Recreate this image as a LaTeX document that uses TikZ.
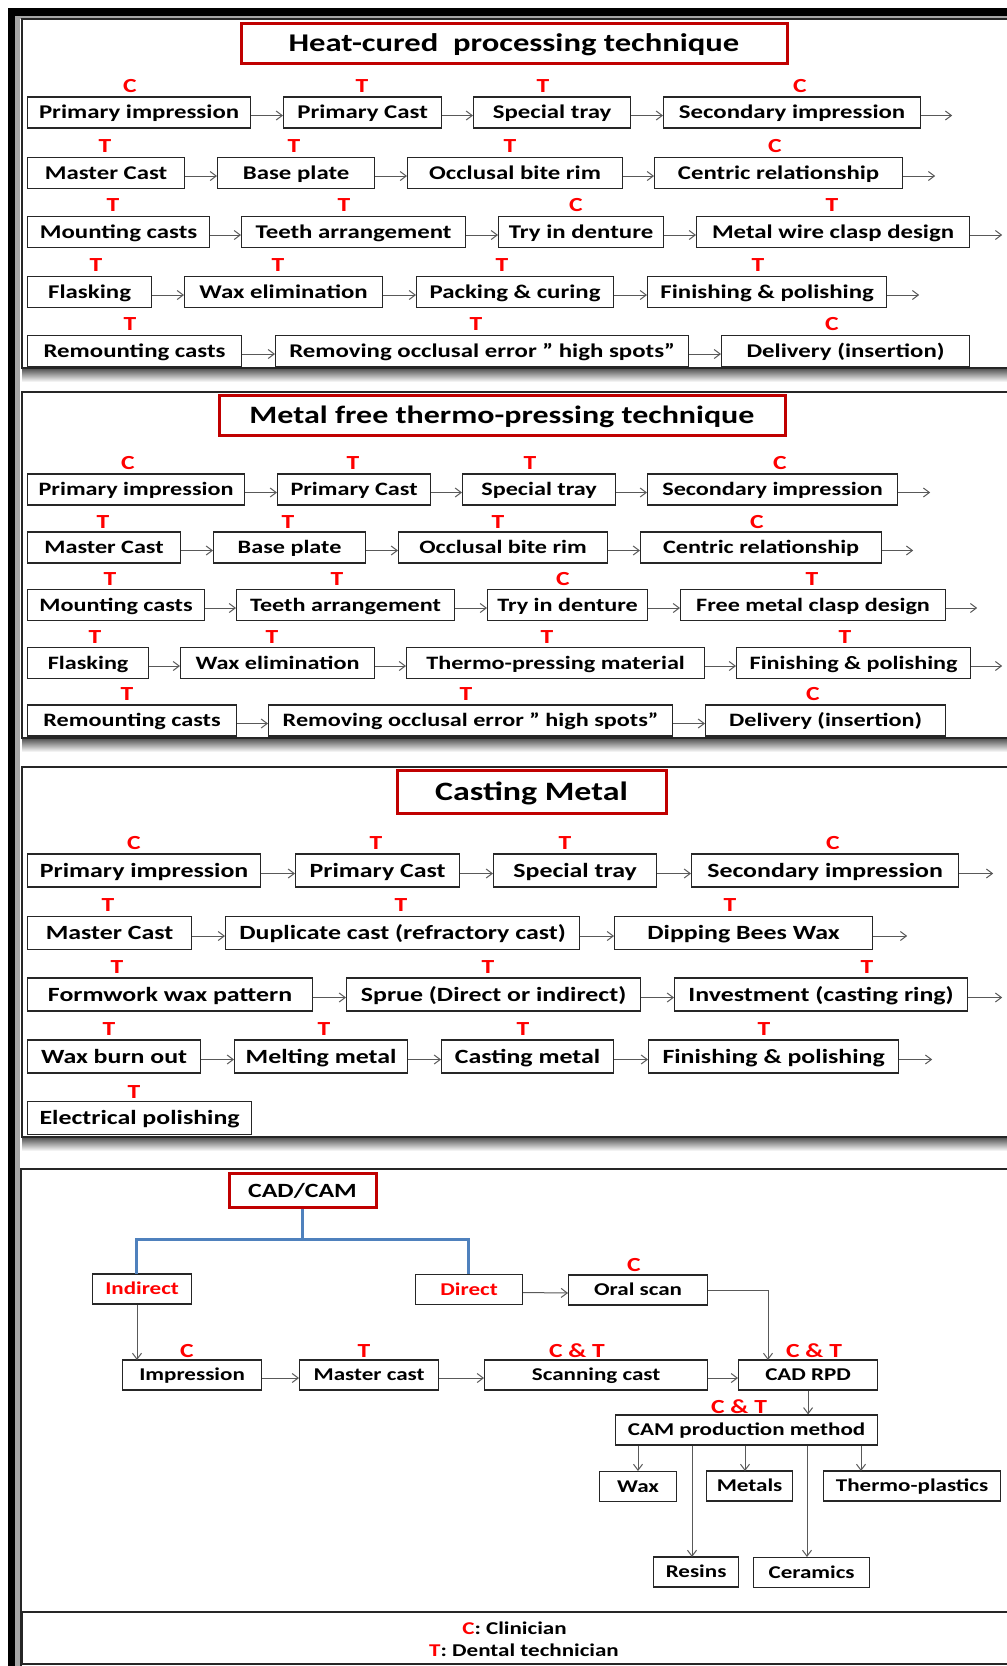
\documentclass[tikz,border=0pt]{standalone}
\usepackage{fontspec}
\setmainfont{Carlito}[FakeStretch=1.28]
\usetikzlibrary{arrows.meta}
\definecolor{dred}{HTML}{C00000}
\definecolor{oblue}{HTML}{4F81BD}
\definecolor{agray}{HTML}{595959}
\newcommand\fsz[1]{\fontsize{#1}{#1}\selectfont}
\newcommand\mybox[6][]{\node[bx,#1,minimum width={#4pt-#3pt},anchor=west] (#2) at (#3,#5) {#6};}
\newcommand\myarr[2]{\draw[arr] ([yshift=-3pt]#1.east) -- ([yshift=-3pt]#2.west);}
\newcommand\mytail[2]{\draw[arr] ([yshift=-3pt]#1.east) -- ++(#2,0);}
\newcommand\mylab[4]{\node[lab] (#1) at (#2,#3) {#4};}
\begin{document}
\begin{tikzpicture}[x=1pt,y=-1pt,
  bx/.style={draw=black!85,line width=1.2pt,fill=white,inner sep=0pt,minimum height=31pt},
  p1/.style={font=\bfseries\fsz{19.4},text height=12.4pt,text depth=0pt},
  p2/.style={font=\bfseries\fsz{18.9},text height=12.1pt,text depth=0pt},
  p3/.style={font=\bfseries\fsz{20.2},text height=13pt,text depth=0pt,minimum height=33pt},
  p4/.style={font=\bfseries\fsz{18},text height=11.6pt,text depth=0pt,minimum height=30pt},
  lab/.style={text=red,font=\bfseries\fsz{20},inner sep=0pt},
  arr/.style={draw=agray,line width=1pt,-{Straight Barb[length=6pt,width=9pt]}},
  panel/.style={draw=black!85,line width=1.8pt},
  ttl/.style={draw=dred,line width=3pt,fill=white,inner sep=0pt,text depth=0pt},
  bl/.style={draw=oblue,line width=3pt}]
\useasboundingbox (0,0) rectangle (1007,1666);
\clip (0,0) rectangle (1007,1666);
\fill[white] (0,0) rectangle (1007,1666);
% outer frame
\fill[black] (8,8) rectangle (1007,16);
\fill[black] (8,8) rectangle (15,1666);
\fill[black!35] (15,16) rectangle (1007,18.5);
\fill[black!35] (15,16) rectangle (19.5,1666);
% panels
\foreach \a/\b in {19/368,392/738,767/1137}{
  \shade[top color=black!70,bottom color=white] (22,\b) rectangle (1012,\b+14);
  \draw[panel,fill=white] (22,\a) rectangle (1015,\b);
}
\draw[panel,fill=white] (21,1169) rectangle (1015,1680);
\draw[panel] (22,1612) rectangle (1015,1664);

% ---------- Panel 1 ----------
\node[ttl,minimum width=546pt,minimum height=40pt,font=\bfseries\fsz{25.5},text height=16.4pt] (t1) at (514,43.5) {Heat-cured\ \ processing technique};
\mybox[p1]{a11}{27}{250}{112.5}{Primary impression}
\mybox[p1]{a12}{283}{441}{112.5}{Primary Cast}
\mybox[p1]{a13}{473}{630}{112.5}{Special tray}
\mybox[p1]{a14}{663}{920}{112.5}{Secondary impression}
\myarr{a11}{a12}\myarr{a12}{a13}\myarr{a13}{a14}\mytail{a14}{31}
\mylab{l11}{130}{86}{C}\mylab{l12}{362}{86}{T}\mylab{l13}{543}{86}{T}\mylab{l14}{800}{86}{C}
\mybox[p1]{a21}{27}{184}{173}{Master Cast}
\mybox[p1]{a22}{217}{374}{173}{Base plate}
\mybox[p1]{a23}{407}{622}{173}{Occlusal bite rim}
\mybox[p1]{a24}{654}{902}{173}{Centric relationship}
\myarr{a21}{a22}\myarr{a22}{a23}\myarr{a23}{a24}\mytail{a24}{32}
\mylab{l21}{105}{146}{T}\mylab{l22}{294}{146}{T}\mylab{l23}{510}{146}{T}\mylab{l24}{775}{146}{C}
\mybox[p1]{a31}{27}{209}{232}{Mounting casts}
\mybox[p1]{a32}{241}{465}{232}{Teeth arrangement}
\mybox[p1]{a33}{498}{663}{232}{Try in denture}
\mybox[p1]{a34}{696}{969}{232}{Metal wire clasp design}
\myarr{a31}{a32}\myarr{a32}{a33}\myarr{a33}{a34}\mytail{a34}{32}
\mylab{l31}{113}{205}{T}\mylab{l32}{344}{205}{T}\mylab{l33}{576}{205}{C}\mylab{l34}{832}{205}{T}
\mybox[p1]{a41}{27}{151}{292}{Flasking}
\mybox[p1]{a42}{184}{382}{292}{Wax elimination}
\mybox[p1]{a43}{416}{613}{292}{Packing \& curing}
\mybox[p1]{a44}{647}{886}{292}{Finishing \& polishing}
\myarr{a41}{a42}\myarr{a42}{a43}\myarr{a43}{a44}\mytail{a44}{32}
\mylab{l41}{96}{265}{T}\mylab{l42}{278}{265}{T}\mylab{l43}{502}{265}{T}\mylab{l44}{758}{265}{T}
\mybox[p1]{a51}{27}{241}{351}{Remounting casts}
\mybox[p1]{a52}{275}{688}{351}{Removing occlusal error ” high spots”}
\mybox[p1]{a53}{721}{969}{351}{Delivery (insertion)}
\myarr{a51}{a52}\myarr{a52}{a53}
\mylab{l51}{130}{324}{T}\mylab{l52}{476}{324}{T}\mylab{l53}{832}{324}{C}

% ---------- Panel 2 ----------
\node[ttl,minimum width=566pt,minimum height=40pt,font=\bfseries\fsz{25},text height=16.1pt] (t2) at (502,415.5) {Metal free thermo-pressing technique};
\mybox[p2]{b11}{27}{244}{489.5}{Primary impression}
\mybox[p2]{b12}{277}{430}{489.5}{Primary Cast}
\mybox[p2]{b13}{462}{615}{489.5}{Special tray}
\mybox[p2]{b14}{647}{897}{489.5}{Secondary impression}
\myarr{b11}{b12}\myarr{b12}{b13}\myarr{b13}{b14}\mytail{b14}{32}
\mylab{m11}{128}{463}{C}\mylab{m12}{353}{463}{T}\mylab{m13}{530}{463}{T}\mylab{m14}{780}{463}{C}
\mybox[p2]{b21}{27}{180}{547.5}{Master Cast}
\mybox[p2]{b22}{213}{365}{547.5}{Base plate}
\mybox[p2]{b23}{398}{607}{547.5}{Occlusal bite rim}
\mybox[p2]{b24}{640}{881}{547.5}{Centric relationship}
\myarr{b21}{b22}\myarr{b22}{b23}\myarr{b23}{b24}\mytail{b24}{31}
\mylab{m21}{103}{522}{T}\mylab{m22}{288}{522}{T}\mylab{m23}{498}{522}{T}\mylab{m24}{757}{522}{C}
\mybox[p2]{b31}{27}{204}{605}{Mounting casts}
\mybox[p2]{b32}{236}{454}{605}{Teeth arrangement}
\mybox[p2]{b33}{487}{647}{605}{Try in denture}
\mybox[p2]{b34}{680}{945}{605}{Free metal clasp design}
\myarr{b31}{b32}\myarr{b32}{b33}\myarr{b33}{b34}\mytail{b34}{31}
\mylab{m31}{110}{579}{T}\mylab{m32}{337}{579}{T}\mylab{m33}{563}{579}{C}\mylab{m34}{812}{579}{T}
\mybox[p2]{b41}{27}{148}{663}{Flasking}
\mybox[p2]{b42}{180}{374}{663}{Wax elimination}
\mybox[p2]{b43}{406}{704}{663}{Thermo-pressing material}
\mybox[p2]{b44}{736}{970}{663}{Finishing \& polishing}
\myarr{b41}{b42}\myarr{b42}{b43}\myarr{b43}{b44}\mytail{b44}{31}
\mylab{m41}{95}{637}{T}\mylab{m42}{272}{637}{T}\mylab{m43}{547}{637}{T}\mylab{m44}{845}{637}{T}
\mybox[p2]{b51}{27}{236}{720.5}{Remounting casts}
\mybox[p2]{b52}{268}{672}{720.5}{Removing occlusal error ” high spots”}
\mybox[p2]{b53}{705}{945}{720.5}{Delivery (insertion)}
\myarr{b51}{b52}\myarr{b52}{b53}
\mylab{m51}{127}{694}{T}\mylab{m52}{466}{694}{T}\mylab{m53}{813}{694}{C}

% ---------- Panel 3 ----------
\node[ttl,minimum width=269pt,minimum height=43pt,font=\bfseries\fsz{26.5},text height=17pt] (t3) at (531.5,792) {Casting Metal};
\mybox[p3]{c11}{27}{260}{870.5}{Primary impression}
\mybox[p3]{c12}{295}{459}{870.5}{Primary Cast}
\mybox[p3]{c13}{493}{656}{870.5}{Special tray}
\mybox[p3]{c14}{691}{958}{870.5}{Secondary impression}
\myarr{c11}{c12}\myarr{c12}{c13}\myarr{c13}{c14}\mytail{c14}{34}
\mylab{n11}{134}{843}{C}\mylab{n12}{376}{843}{T}\mylab{n13}{565}{843}{T}\mylab{n14}{833}{843}{C}
\mybox[p3]{c21}{27}{191}{933}{Master Cast}
\mybox[p3]{c22}{225}{579}{933}{Duplicate cast (refractory cast)}
\mybox[p3]{c23}{614}{872}{933}{Dipping Bees Wax}
\myarr{c21}{c22}\myarr{c22}{c23}\mytail{c23}{34}
\mylab{n21}{108}{905}{T}\mylab{n22}{401}{905}{T}\mylab{n23}{730}{905}{T}
\mybox[p3]{c31}{27}{312}{994.5}{Formwork wax pattern}
\mybox[p3]{c32}{346}{640}{994.5}{Sprue (Direct or indirect)}
\mybox[p3]{c33}{674}{967}{994.5}{Investment (casting ring)}
\myarr{c31}{c32}\myarr{c32}{c33}\mytail{c33}{34}
\mylab{n31}{117}{967}{T}\mylab{n32}{488}{967}{T}\mylab{n33}{867}{967}{T}
\mybox[p3]{c41}{27}{200}{1056.5}{Wax burn out}
\mybox[p3]{c42}{234}{407}{1056.5}{Melting metal}
\mybox[p3]{c43}{441}{613}{1056.5}{Casting metal}
\mybox[p3]{c44}{648}{898}{1056.5}{Finishing \& polishing}
\myarr{c41}{c42}\myarr{c42}{c43}\myarr{c43}{c44}\mytail{c44}{33}
\mylab{n41}{109}{1029}{T}\mylab{n42}{324}{1029}{T}\mylab{n43}{523}{1029}{T}\mylab{n44}{764}{1029}{T}
\mybox[p3]{c51}{27}{251}{1118}{Electrical polishing}
\mylab{n51}{134}{1092}{T}

% ---------- Panel 4 ----------
\node[ttl,minimum width=147pt,minimum height=34pt,font=\bfseries\fsz{20.2},text height=13pt] (cad) at (302.5,1190.5) {CAD/CAM};
\mybox[p4,text=red]{ind}{92}{191}{1289}{Indirect}
\mybox[p4,text=red]{dir}{415}{522}{1289.5}{Direct}
\mybox[p4]{oral}{568}{707}{1290}{Oral scan}
\mylab{o1}{634}{1265}{C}
\coordinate (bj) at (302.5,1239);
\coordinate (indtop) at (136,1274);
\coordinate (dirtop) at (468,1274);
\draw[bl] (cad.south) -- (bj);
\draw[bl] (indtop) |- (bj) -| (dirtop);
\myarr{dir}{oral}
\mybox[p4]{imp}{122}{261}{1375}{Impression}
\mybox[p4]{mc}{299}{438}{1375}{Master cast}
\mybox[p4]{sc}{484}{707}{1375}{Scanning cast}
\mybox[p4]{rpd}{738}{877}{1375}{CAD RPD}
\mylab{o2}{187}{1351}{C}\mylab{o3}{364}{1351}{T}\mylab{o4}{577}{1351}{C \& T}\mylab{o5}{814}{1351}{C \& T}
\myarr{imp}{mc}\myarr{mc}{sc}\myarr{sc}{rpd}
\coordinate (impin) at (137,1360);
\draw[arr] (ind.south -| impin) -- (impin);
\coordinate (rpdin) at (768,1360);
\draw[arr] (oral.east) -| (rpdin);
\mybox[p4]{cam}{615}{877}{1430}{CAM production method}
\mylab{o6}{739}{1407}{C \& T}
\draw[arr] (rpd.south) -- (rpd.south |- cam.north);
\mybox[p4]{wax}{599}{676}{1486.5}{Wax}
\mybox[p4]{met}{706}{792}{1486}{Metals}
\mybox[p4]{tp}{823}{1000}{1486}{Thermo-plastics}
\mybox[p4]{res}{653}{738}{1572}{Resins}
\mybox[p4]{cer}{753}{869}{1572.5}{Ceramics}
\coordinate (waxin) at (638,1471);
\coordinate (metin) at (745,1471);
\coordinate (tpin) at (861,1471);
\coordinate (resin) at (692,1557);
\coordinate (cerin) at (807,1557);
\foreach \t in {waxin,metin,tpin,resin,cerin}{\draw[arr] (cam.south -| \t) -- (\t);}
% legend
\node[font=\bfseries\fsz{18},inner sep=0pt] (lg1) at (514.5,1628) {\textcolor{red}{C}: Clinician};
\node[font=\bfseries\fsz{18},inner sep=0pt] (lg2) at (524,1650) {\textcolor{red}{T}: Dental technician};
\end{tikzpicture}
\end{document}
